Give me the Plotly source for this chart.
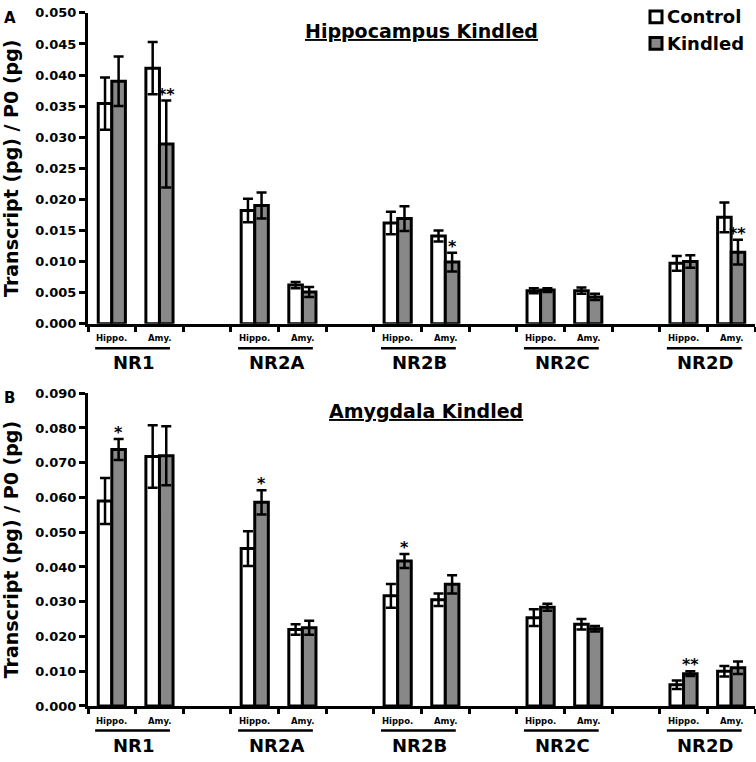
import plotly.graph_objects as go

# ---------------- data ----------------
genes = ["NR1", "NR2A", "NR2B", "NR2C", "NR2D"]
regions = ["Hippo.", "Amy."]
series_names = ["Control", "Kindled"]
series_colors = ["white", "#888888"]
panel_titles = ["Hippocampus Kindled", "Amygdala Kindled"]
panel_letters = ["A", "B"]

# Panel A (order: NR1 Hippo, NR1 Amy, NR2A Hippo, NR2A Amy, ...)
ctrl_A = [0.0354, 0.0411, 0.0182, 0.0062, 0.0162, 0.0141, 0.0053, 0.0053, 0.0097, 0.0171]
ctrl_A_err = [0.0042, 0.0042, 0.0019, 0.0005, 0.0018, 0.0009, 0.0004, 0.0005, 0.0012, 0.0024]
kind_A = [0.0390, 0.0289, 0.0190, 0.0051, 0.0169, 0.0099, 0.0054, 0.0043, 0.0100, 0.0115]
kind_A_err = [0.0040, 0.0070, 0.0021, 0.0008, 0.0020, 0.0015, 0.0003, 0.0005, 0.0010, 0.0020]
sig_A = ["", "**", "", "", "", "*", "", "", "", "**"]

# Panel B
ctrl_B = [0.0590, 0.0718, 0.0453, 0.0220, 0.0317, 0.0306, 0.0254, 0.0235, 0.0061, 0.0100]
ctrl_B_err = [0.0066, 0.0090, 0.0050, 0.0015, 0.0034, 0.0018, 0.0024, 0.0015, 0.0012, 0.0015]
kind_B = [0.0738, 0.0720, 0.0586, 0.0225, 0.0417, 0.0350, 0.0284, 0.0222, 0.0093, 0.0110]
kind_B_err = [0.0030, 0.0085, 0.0035, 0.0020, 0.0020, 0.0026, 0.0010, 0.0008, 0.0007, 0.0018]
sig_B = ["*", "", "*", "", "*", "", "", "", "**", ""]

yticks_A = [0.000, 0.005, 0.010, 0.015, 0.020, 0.025, 0.030, 0.035, 0.040, 0.045, 0.050]
yticks_B = [0.000, 0.010, 0.020, 0.030, 0.040, 0.050, 0.060, 0.070, 0.080, 0.090]

# ---------------- layout constants ----------------
W, H = 756, 762
FONT = "DejaVu Sans, Arial, sans-serif"
BARGAP = 0.43
x_dom = [88 / W, 755 / W]
y_doms = [[1 - 323 / H, 1 - 6 / H], [1 - 713 / H, 1 - 394 / H]]

n_slots = len(genes) * 3 - 1
x_pos = [3 * g + r for g in range(len(genes)) for r in range(len(regions))]
boundaries = [k - 0.5 for k in range(n_slots + 1)]
xr = [-0.5, n_slots - 0.5]

panels = [
    (ctrl_A, ctrl_A_err, kind_A, kind_A_err, sig_A, yticks_A),
    (ctrl_B, ctrl_B_err, kind_B, kind_B_err, sig_B, yticks_B),
]

fig = go.Figure()
annotations = []
shapes = []

for p, (cv, ce, kv, ke, sig, yt) in enumerate(panels):
    xa = "x" if p == 0 else "x2"
    ya = "y" if p == 0 else "y2"
    for s, (vals, errs) in enumerate([(cv, ce), (kv, ke)]):
        fig.add_trace(go.Bar(
            x=x_pos, y=vals, name=series_names[s], xaxis=xa, yaxis=ya,
            marker=dict(color=series_colors[s], line=dict(color="black", width=3)),
            error_y=dict(type="data", array=errs, color="black", thickness=2.5, width=5),
            showlegend=False, offsetgroup=str(s),
        ))

    # significance stars above kindled bars
    off = (1 - BARGAP) / 4
    for xi, v, e, s in zip(x_pos, kv, ke, sig):
        if s:
            annotations.append(dict(
                x=xi + off, y=v + e, xref=xa, yref=ya, text="<b>%s</b>" % s,
                showarrow=False, yanchor="bottom", xanchor="center", yshift=-5,
                font=dict(family=FONT, size=16, color="black"),
            ))

    d0 = y_doms[p][0]
    # region sub-labels
    for i, xi in enumerate(x_pos):
        annotations.append(dict(
            x=xi, y=d0 - 15 / H, xref=xa, yref="paper",
            text="<b>%s</b>" % regions[i % 2], showarrow=False,
            xanchor="center", yanchor="middle",
            font=dict(family=FONT, size=8.5, color="black"),
        ))
    # gene labels + underline
    for g, gene in enumerate(genes):
        annotations.append(dict(
            x=3 * g + 0.45, y=d0 - 40 / H, xref=xa, yref="paper",
            text="<b>%s</b>" % gene, showarrow=False,
            xanchor="center", yanchor="middle",
            font=dict(family=FONT, size=18, color="black"),
        ))
        shapes.append(dict(
            type="line", xref=xa, yref="paper",
            x0=3 * g - 0.35, x1=3 * g + 1.22, y0=d0 - 25 / H, y1=d0 - 25 / H,
            line=dict(color="black", width=2.5),
        ))
    # panel title
    annotations.append(dict(
        x=(421 if p == 0 else 426) / W, y=y_doms[p][1] - 18 / H, xref="paper", yref="paper",
        text="<u><b>%s</b></u>" % panel_titles[p], showarrow=False,
        xanchor="center", yanchor="middle",
        font=dict(family=FONT, size=19, color="black"),
    ))
    # panel letter
    annotations.append(dict(
        x=2 / W, y=y_doms[p][1] - 5 / H, xref="paper", yref="paper",
        text="<b>%s</b>" % panel_letters[p], showarrow=False,
        xanchor="left", yanchor="middle",
        font=dict(family=FONT, size=15, color="black"),
    ))

# custom legend (top right of panel A)
leg_x0, leg_y = 650, [10, 37]
for s, name in enumerate(series_names):
    shapes.append(dict(
        type="rect", xref="paper", yref="paper",
        x0=leg_x0 / W, x1=(leg_x0 + 12) / W,
        y0=1 - (leg_y[s] + 6) / H, y1=1 - (leg_y[s] - 6) / H,
        fillcolor=series_colors[s], line=dict(color="black", width=3),
    ))
    annotations.append(dict(
        x=(leg_x0 + 15) / W, y=1 - leg_y[s] / H, xref="paper", yref="paper",
        text="<b>%s</b>" % name, showarrow=False, xanchor="left", yanchor="middle",
        font=dict(family=FONT, size=18, color="black"),
    ))

common_x = dict(range=xr, showgrid=False, zeroline=False, showticklabels=False,
                tickmode="array", tickvals=boundaries, tickwidth=3, tickcolor="black",
                domain=x_dom)
layout = dict(
    width=W, height=H, margin=dict(l=0, r=0, t=0, b=0),
    paper_bgcolor="white", plot_bgcolor="white",
    barmode="group", bargap=BARGAP, bargroupgap=0,
    font=dict(family=FONT, color="black"),
    showlegend=False,
    annotations=annotations, shapes=shapes,
)

axis_names = [("xaxis", "yaxis", "xaxis3", "yaxis3", "x", "y"),
              ("xaxis2", "yaxis2", "xaxis4", "yaxis4", "x2", "y2")]
for p, (xn, yn, xo, yo, xs, ys) in enumerate(axis_names):
    yt = panels[p][5]
    yrng = [0, yt[-1]]
    layout[xn] = dict(common_x, anchor=ys, showline=True, linewidth=3, linecolor="black",
                      ticks="outside", ticklen=5)
    layout[xo] = dict(common_x, anchor=ys, overlaying=xs, showline=False,
                      ticks="inside", ticklen=4)
    ytext = ["%.3f" % v for v in yt]
    layout[yn] = dict(domain=y_doms[p], range=yrng, anchor=xs, showgrid=False, zeroline=False,
                      showline=True, linewidth=3, linecolor="black",
                      ticks="outside", ticklen=6, tickwidth=3, tickcolor="black",
                      tickmode="array", tickvals=yt, ticktext=ytext,
                      tickfont=dict(family=FONT, size=13, color="black", weight="bold"),
                      title=dict(text="<b>Transcript (pg) / P0 (pg)</b>", standoff=14,
                                 font=dict(family=FONT, size=19, color="black")))
    layout[yo] = dict(domain=y_doms[p], range=yrng, anchor=xs, overlaying=ys, side="left",
                      showgrid=False, zeroline=False, showline=False, showticklabels=False,
                      ticks="inside", ticklen=4, tickwidth=3, tickcolor="black",
                      tickmode="array", tickvals=yt)

fig.update_layout(**layout)
fig.write_html("out.html", config={"displayModeBar": False},
               post_script="document.body.style.margin='0';document.body.style.overflow='hidden';")
